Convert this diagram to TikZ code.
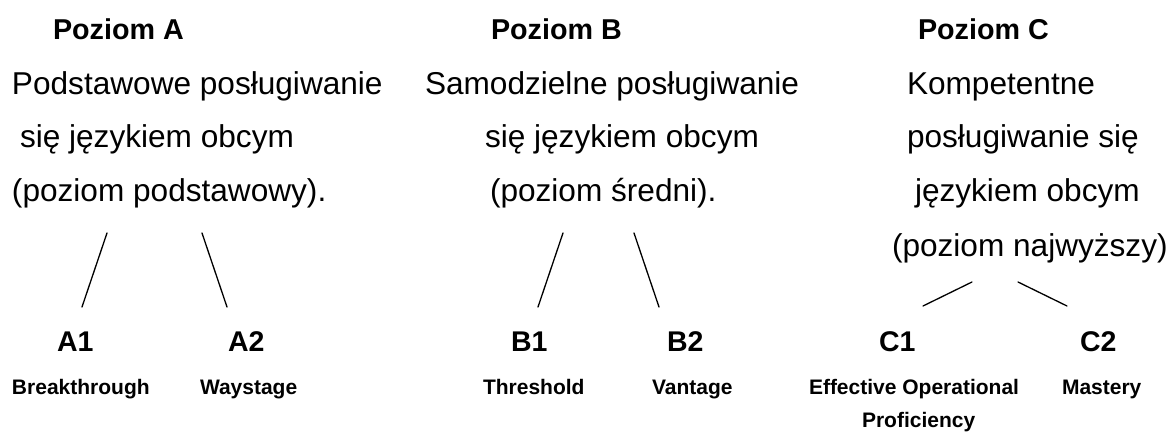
\documentclass[tikz,border=0pt]{standalone}
\usepackage{fontspec}
\setmainfont{Liberation Sans}
\begin{document}
\begin{tikzpicture}[x=1pt,y=-1pt,
  every node/.style={inner sep=0pt,outer sep=0pt,anchor=base west},
  head/.style={font=\fontsize{28.7}{34}\selectfont\bfseries},
  txt/.style={font=\fontsize{31.6}{38}\selectfont},
  lvl/.style={font=\fontsize{28.5}{34}\selectfont\bfseries},
  sub/.style={font=\fontsize{21}{25}\selectfont\bfseries},
  link/.style={line width=1.3pt,line cap=round}]
\useasboundingbox (0,0) rectangle (1171,435);
\fill[white] (0,0) rectangle (1171,435);
% headings
\node[head] (pa) at (53,40) {Poziom A};
\node[head] (pb) at (491,40) {Poziom B};
\node[head] (pc) at (918,40) {Poziom C};
% A description
\node[txt] (a1l) at (12,95) {Podstawowe posługiwanie};
\node[txt] (a2l) at (20,148) {się językiem obcym};
\node[txt] (a3l) at (12,202) {(poziom podstawowy).};
% B description
\node[txt] (b1l) at (425,95) {Samodzielne posługiwanie};
\node[txt] (b2l) at (485,148) {się językiem obcym};
\node[txt] (b3l) at (490,202) {(poziom średni).};
% C description
\node[txt] (c1l) at (907,95) {Kompetentne};
\node[txt] (c2l) at (907,148) {posługiwanie się};
\node[txt] (c3l) at (915,202) {językiem obcym};
\node[txt] (c4l) at (892,257) {(poziom najwyższy)};
% levels
\node[lvl] (A1) at (57,352) {A1};
\node[lvl] (A2) at (228,352) {A2};
\node[lvl] (B1) at (511,352) {B1};
\node[lvl] (B2) at (667,352) {B2};
\node[lvl] (C1) at (879,352) {C1};
\node[lvl] (C2) at (1080,352) {C2};
% names
\node[sub] (nA1) at (12,395) {Breakthrough};
\node[sub] (nA2) at (200,395) {Waystage};
\node[sub] (nB1) at (483,395) {Threshold};
\node[sub] (nB2) at (652,395) {Vantage};
\node[sub] (nC1) at (809,395) {Effective Operational};
\node[sub] (nC1b) at (862,428) {Proficiency};
\node[sub] (nC2) at (1062,395) {Mastery};
% connector end points
\coordinate (a1t) at (107,233); \coordinate (a1b) at (82,307);
\coordinate (a2t) at (202,233); \coordinate (a2b) at (227,307);
\coordinate (b1t) at (563,233); \coordinate (b1b) at (538,307);
\coordinate (b2t) at (634,233); \coordinate (b2b) at (659,307);
\coordinate (c1t) at (972,282); \coordinate (c1b) at (923,306);
\coordinate (c2t) at (1018,282); \coordinate (c2b) at (1067,306);
\draw[link] (a1t) -- (a1b);
\draw[link] (a2t) -- (a2b);
\draw[link] (b1t) -- (b1b);
\draw[link] (b2t) -- (b2b);
\draw[link] (c1t) -- (c1b);
\draw[link] (c2t) -- (c2b);
\end{tikzpicture}
\end{document}
